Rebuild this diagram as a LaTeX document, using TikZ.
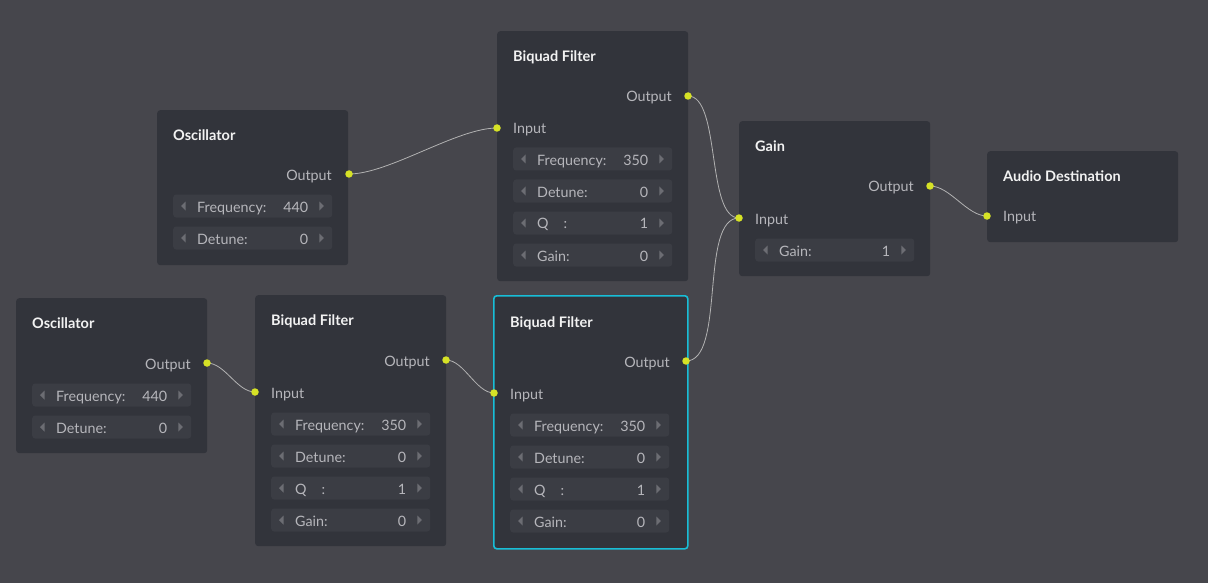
\documentclass[tikz,border=0pt]{standalone}
\usepackage{fontspec}
\setmainfont{Lato}
\usetikzlibrary{calc}
\definecolor{bgc}{RGB}{70,70,76}
\definecolor{nodec}{RGB}{50,52,59}
\definecolor{rowc}{RGB}{59,61,68}
\definecolor{portc}{RGB}{214,226,38}
\definecolor{selc}{RGB}{24,190,215}
\definecolor{labc}{RGB}{182,182,187}
\definecolor{titc}{RGB}{242,242,242}
\definecolor{wirec}{RGB}{178,178,178}
\definecolor{arrc}{RGB}{108,109,115}
\pgfdeclarelayer{back}\pgfdeclarelayer{wires}
\pgfsetlayers{back,wires,main}
\tikzset{
  box/.style={fill=nodec, rounded corners=3pt, anchor=north west, inner sep=0pt, draw=none},
  selbox/.style={box, draw=selc, line width=1.6pt},
  title/.style={anchor=base west, text=titc, font=\fontsize{14.5}{16}\selectfont\bfseries, inner sep=0pt, yshift=-1.5pt},
  lab/.style={anchor=base west, text=labc, font=\fontsize{14.3}{16}\selectfont, inner sep=0pt, yshift=-1pt},
  labr/.style={lab, anchor=base east},
  port/.style={circle, fill=portc, minimum size=7.5pt, inner sep=0pt},
  rowbox/.style={fill=rowc, rounded corners=3pt, minimum width=159pt, minimum height=23pt, inner sep=0pt, anchor=west},
  wire/.style={draw=wirec, line width=0.8pt},
}
\newcommand{\prow}[5]{%
  \node[rowbox] (#1) at (#2,#3) {};
  \fill[arrc] ($(#1.west)+(8,0)$) -- ++(4.5,-4.5) -- ++(0,9) -- cycle;
  \fill[arrc] ($(#1.east)+(-8.5,0)$) -- ++(-4.5,-4.5) -- ++(0,9) -- cycle;
  \node[lab] (#1l) at ($(#1.west)+(24,5)$) {#4};
  \node[labr] (#1v) at ($(#1.east)+(-24,5)$) {#5};
}
\begin{document}
\begin{tikzpicture}[x=1pt,y=-1pt]
\begin{pgfonlayer}{back}
\fill[bgc] (0,0) rectangle (1208,583);
\end{pgfonlayer}
\useasboundingbox (0,0) rectangle (1208,583);

% Oscillator 1
\node[box, minimum width=191pt, minimum height=155pt] (osc1) at (157,110) {};
\node[title] (osc1t) at (173,139) {Oscillator};
\node[labr] (osc1ol) at (332,179) {Output};
\node[port] (osc1out) at (349,174) {};
\prow{osc1f}{173}{206}{Frequency:}{440}
\prow{osc1d}{173}{238}{Detune:}{0}

% Biquad top
\node[box, minimum width=191pt, minimum height=250pt] (bqa) at (497,31) {};
\node[title] (bqat) at (513,60) {Biquad Filter};
\node[labr] (bqaol) at (672,101) {Output};
\node[port] (bqaout) at (688,96) {};
\node[lab] (bqail) at (513,133) {Input};
\node[port] (bqain) at (497,128) {};
\prow{bqaf}{513}{159}{Frequency:}{350}
\prow{bqad}{513}{191}{Detune:}{0}
\prow{bqaq}{513}{223}{Q\hspace{15pt}:}{1}
\prow{bqag}{513}{255}{Gain:}{0}

% Gain
\node[box, minimum width=191pt, minimum height=155pt] (gain) at (739,121) {};
\node[title] (gaint) at (755,150) {Gain};
\node[labr] (gainol) at (914,191) {Output};
\node[port] (gainout) at (930,186) {};
\node[lab] (gainil) at (755,223) {Input};
\node[port] (gainin) at (739,218) {};
\prow{gaing}{755}{250}{Gain:}{1}

% Audio Destination
\node[box, minimum width=191pt, minimum height=91pt] (aud) at (987,151) {};
\node[title] (audt) at (1003,180) {Audio Destination};
\node[lab] (audil) at (1003,221) {Input};
\node[port] (audin) at (987,216) {};

% Oscillator 2
\node[box, minimum width=191pt, minimum height=155pt] (osc2) at (16,298) {};
\node[title] (osc2t) at (32,327) {Oscillator};
\node[labr] (osc2ol) at (191,368) {Output};
\node[port] (osc2out) at (207,363) {};
\prow{osc2f}{32}{395}{Frequency:}{440}
\prow{osc2d}{32}{427}{Detune:}{0}

% Biquad bottom left
\node[box, minimum width=191pt, minimum height=251pt] (bqb) at (255,295) {};
\node[title] (bqbt) at (271,324) {Biquad Filter};
\node[labr] (bqbol) at (430,365) {Output};
\node[port] (bqbout) at (446,360) {};
\node[lab] (bqbil) at (271,397) {Input};
\node[port] (bqbin) at (255,392) {};
\prow{bqbf}{271}{424}{Frequency:}{350}
\prow{bqbd}{271}{456}{Detune:}{0}
\prow{bqbq}{271}{488}{Q\hspace{15pt}:}{1}
\prow{bqbg}{271}{520}{Gain:}{0}

% Biquad selected
\node[selbox, minimum width=194pt, minimum height=253pt] (bqc) at (493,295) {};
\node[title] (bqct) at (510,326) {Biquad Filter};
\node[labr] (bqcol) at (670,366) {Output};
\node[port] (bqcout) at (686,361) {};
\node[lab] (bqcil) at (510,398) {Input};
\node[port] (bqcin) at (494,393) {};
\prow{bqcf}{510}{425}{Frequency:}{350}
\prow{bqcd}{510}{457}{Detune:}{0}
\prow{bqcq}{510}{489}{Q\hspace{15pt}:}{1}
\prow{bqcg}{510}{521}{Gain:}{0}

\begin{pgfonlayer}{wires}
\draw[wire] (osc1out.center) .. controls +(40,0) and +(-40,0) .. (bqain.center);
\draw[wire] (bqaout.center) .. controls +(33,0) and +(-33,0) .. (gainin.center);
\draw[wire] (bqcout.center) .. controls +(40,0) and +(-40,0) .. (gainin.center);
\draw[wire] (gainout.center) .. controls +(20,0) and +(-20,0) .. (audin.center);
\draw[wire] (osc2out.center) .. controls +(18,0) and +(-18,0) .. (bqbin.center);
\draw[wire] (bqbout.center) .. controls +(18,0) and +(-18,0) .. (bqcin.center);
\end{pgfonlayer}
\end{tikzpicture}
\end{document}
